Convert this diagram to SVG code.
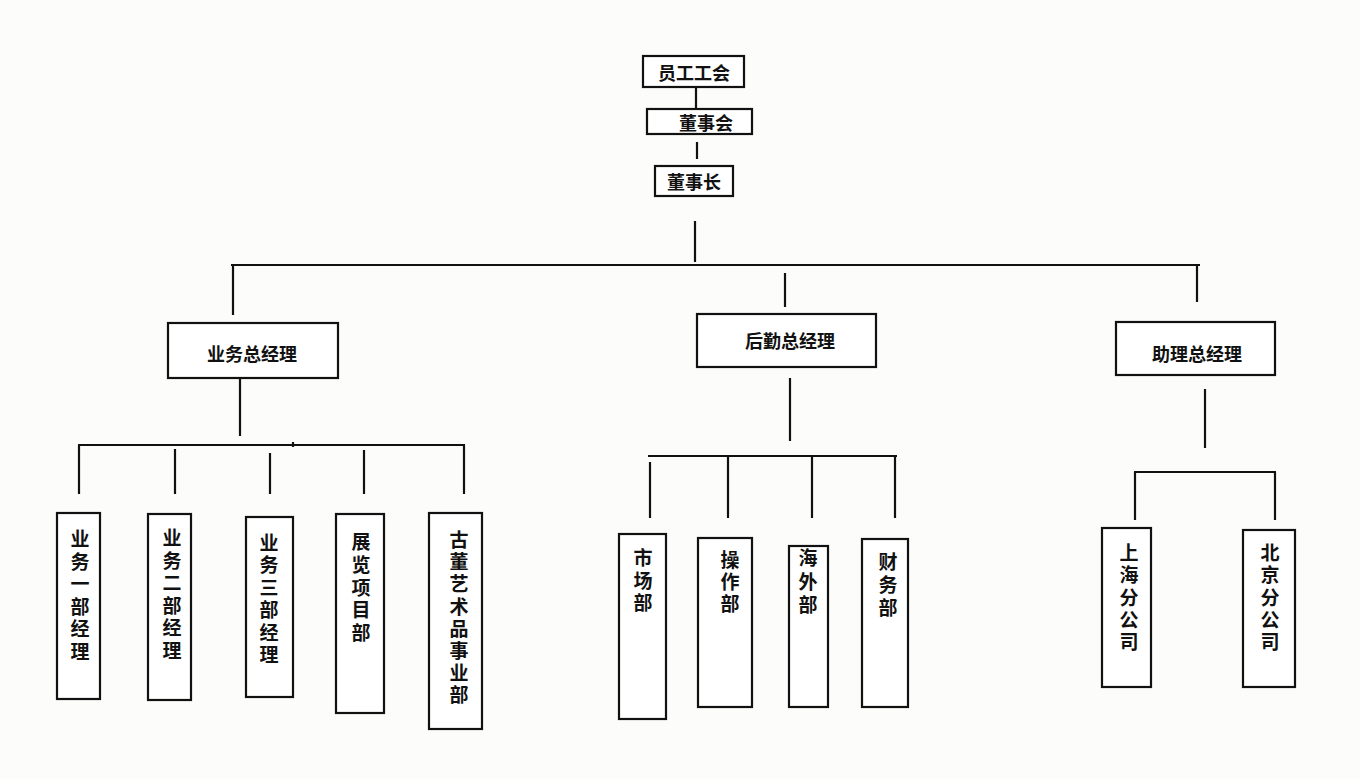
<svg xmlns="http://www.w3.org/2000/svg" width="1360" height="779" viewBox="0 0 1360 779">
<style>
.b{fill:#fff;stroke:#111;stroke-width:2.2}
.l{stroke:#111;stroke-width:2.2;fill:none;stroke-linecap:butt}
.t{font-family:"Noto Sans CJK SC","Noto Sans",sans-serif;font-weight:700;font-size:18px;fill:#111;text-anchor:middle;dominant-baseline:central}
.v{font-family:"Liberation Sans","Noto Sans CJK SC",sans-serif;font-weight:700;font-size:19px;fill:#111;text-anchor:middle;dominant-baseline:central}
</style>
<rect width="1360" height="779" fill="#fcfcfa"/>
<g id="connectors">
<line class="l" x1="696" y1="88" x2="696" y2="108"/>
<line class="l" x1="697" y1="142" x2="697" y2="159"/>
<line class="l" x1="695" y1="221" x2="695" y2="262"/>
<line class="l" x1="231" y1="265" x2="1200" y2="265"/>
<line class="l" x1="233" y1="265" x2="233" y2="315"/>
<line class="l" x1="785" y1="273" x2="785" y2="307"/>
<line class="l" x1="1197" y1="265" x2="1197" y2="302"/>
<line class="l" x1="240" y1="378" x2="240" y2="436"/>
<line class="l" x1="78" y1="445" x2="465" y2="445"/>
<line class="l" x1="293" y1="442" x2="293" y2="447"/>
<line class="l" x1="79" y1="445" x2="79" y2="494"/>
<line class="l" x1="175" y1="449" x2="175" y2="494"/>
<line class="l" x1="270" y1="453" x2="270" y2="494"/>
<line class="l" x1="364" y1="450" x2="364" y2="494"/>
<line class="l" x1="464" y1="445" x2="464" y2="494"/>
<line class="l" x1="790" y1="378" x2="790" y2="441"/>
<line class="l" x1="648" y1="456" x2="897" y2="456"/>
<line class="l" x1="650" y1="462" x2="650" y2="518"/>
<line class="l" x1="728" y1="456" x2="728" y2="518"/>
<line class="l" x1="812" y1="456" x2="812" y2="518"/>
<line class="l" x1="895" y1="456" x2="895" y2="518"/>
<line class="l" x1="1205" y1="389" x2="1205" y2="448"/>
<line class="l" x1="1134" y1="472" x2="1276" y2="472"/>
<line class="l" x1="1135" y1="472" x2="1135" y2="520"/>
<line class="l" x1="1275" y1="472" x2="1275" y2="520"/>
</g>
<g id="n-union"><rect class="b" x="643" y="56" width="101" height="31"/><text class="t" x="694" y="72">员工工会</text></g>
<g id="n-board"><rect class="b" x="647" y="109" width="105" height="25"/><text class="t" x="706" y="122">董事会</text></g>
<g id="n-chair"><rect class="b" x="655" y="166" width="78" height="30"/><text class="t" x="694" y="181">董事长</text></g>
<g id="n-biz"><rect class="b" x="168" y="323" width="170" height="55"/><text class="t" x="252" y="353">业务总经理</text></g>
<g id="n-log"><rect class="b" x="697" y="314" width="179" height="53"/><text class="t" x="790" y="340">后勤总经理</text></g>
<g id="n-ast"><rect class="b" x="1116" y="322" width="159" height="53"/><text class="t" x="1197" y="353">助理总经理</text></g>
<g id="n-b1"><rect class="b" x="57" y="513" width="43" height="186"/><text class="v"><tspan x="80" y="539">业</tspan><tspan x="80" dy="22.6">务</tspan><tspan x="80" dy="22.6">一</tspan><tspan x="80" dy="22.6">部</tspan><tspan x="80" dy="22.6">经</tspan><tspan x="80" dy="22.6">理</tspan></text></g>
<g id="n-b2"><rect class="b" x="148" y="514" width="43" height="186"/><text class="v"><tspan x="172" y="538">业</tspan><tspan x="172" dy="22.6">务</tspan><tspan x="172" dy="22.6">二</tspan><tspan x="172" dy="22.6">部</tspan><tspan x="172" dy="22.6">经</tspan><tspan x="172" dy="22.6">理</tspan></text></g>
<g id="n-b3"><rect class="b" x="246" y="517" width="47" height="180"/><text class="v"><tspan x="269" y="543">业</tspan><tspan x="269" dy="22.4">务</tspan><tspan x="269" dy="22.4">三</tspan><tspan x="269" dy="22.4">部</tspan><tspan x="269" dy="22.4">经</tspan><tspan x="269" dy="22.4">理</tspan></text></g>
<g id="n-b4"><rect class="b" x="336" y="514" width="48" height="199"/><text class="v"><tspan x="361" y="542">展</tspan><tspan x="361" dy="22.8">览</tspan><tspan x="361" dy="22.8">项</tspan><tspan x="361" dy="22.8">目</tspan><tspan x="361" dy="22.8">部</tspan></text></g>
<g id="n-b5"><rect class="b" x="429" y="513" width="53" height="216"/><text class="v"><tspan x="459" y="540">古</tspan><tspan x="459" dy="22.2">董</tspan><tspan x="459" dy="22.2">艺</tspan><tspan x="459" dy="22.2">术</tspan><tspan x="459" dy="22.2">品</tspan><tspan x="459" dy="22.2">事</tspan><tspan x="459" dy="22.2">业</tspan><tspan x="459" dy="22.2">部</tspan></text></g>
<g id="n-l1"><rect class="b" x="619" y="534" width="47" height="185"/><text class="v"><tspan x="643" y="558">市</tspan><tspan x="643" dy="22.5">场</tspan><tspan x="643" dy="22.5">部</tspan></text></g>
<g id="n-l2"><rect class="b" x="698" y="538" width="54" height="169"/><text class="v"><tspan x="730" y="560">操</tspan><tspan x="730" dy="22">作</tspan><tspan x="730" dy="22">部</tspan></text></g>
<g id="n-l3"><rect class="b" x="789" y="546" width="39" height="161"/><text class="v"><tspan x="808" y="558">海</tspan><tspan x="808" dy="23.5">外</tspan><tspan x="808" dy="23.5">部</tspan></text></g>
<g id="n-l4"><rect class="b" x="862" y="539" width="46" height="168"/><text class="v"><tspan x="888" y="562">财</tspan><tspan x="888" dy="23">务</tspan><tspan x="888" dy="23">部</tspan></text></g>
<g id="n-a1"><rect class="b" x="1102" y="528" width="49" height="159"/><text class="v"><tspan x="1129" y="553">上</tspan><tspan x="1129" dy="22.3">海</tspan><tspan x="1129" dy="22.3">分</tspan><tspan x="1129" dy="22.3">公</tspan><tspan x="1129" dy="22.3">司</tspan></text></g>
<g id="n-a2"><rect class="b" x="1243" y="530" width="52" height="157"/><text class="v"><tspan x="1270" y="553">北</tspan><tspan x="1270" dy="22.3">京</tspan><tspan x="1270" dy="22.3">分</tspan><tspan x="1270" dy="22.3">公</tspan><tspan x="1270" dy="22.3">司</tspan></text></g>
</svg>
